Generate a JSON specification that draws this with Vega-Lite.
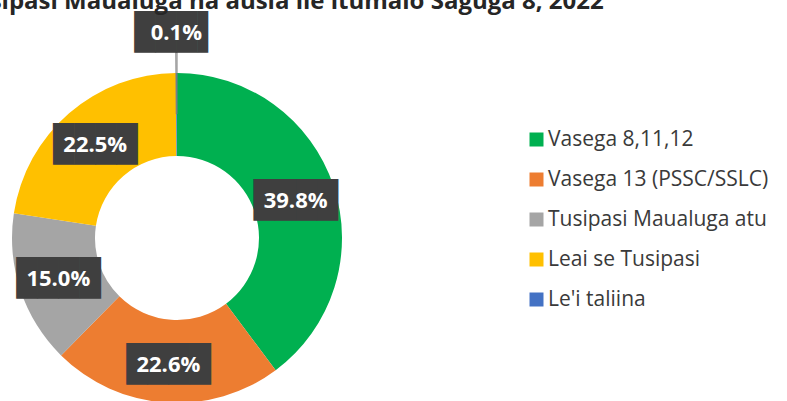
{
  "$schema": "https://vega.github.io/schema/vega-lite/v6.json",
  "autosize": {"type": "none"},
  "width": 354,
  "height": 330,
  "padding": {"left": 0, "top": 73, "right": 433, "bottom": 0},
  "background": "#ffffff",
  "title": {
    "text": "Tusipasi Maualuga na ausia ile itumalo Saguga 8, 2022",
    "anchor": "start",
    "frame": "group",
    "font": "Open Sans",
    "fontSize": 24,
    "fontWeight": "bold",
    "color": "#262626",
    "dx": -40,
    "dy": 21,
    "offset": 4,
    "baseline": "alphabetic"
  },
  "config": {"view": {"stroke": null}},
  "data": {
    "values": [
      {"cat": "Vasega 8,11,12", "pct": 39.8, "ord": 1, "lbl": "39.8%"},
      {"cat": "Vasega 13 (PSSC/SSLC)", "pct": 22.6, "ord": 2, "lbl": "22.6%"},
      {"cat": "Tusipasi Maualuga atu", "pct": 15.0, "ord": 3, "lbl": "15.0%"},
      {"cat": "Leai se Tusipasi", "pct": 22.5, "ord": 4, "lbl": "22.5%"},
      {"cat": "Le'i taliina", "pct": 0.1, "ord": 5, "lbl": "0.1%"}
    ]
  },
  "encoding": {
    "theta": {"field": "pct", "type": "quantitative", "stack": true},
    "order": {"field": "ord", "type": "quantitative"}
  },
  "layer": [
    {
      "mark": {"type": "arc", "innerRadius": 82, "outerRadius": 165},
      "encoding": {
        "color": {
          "field": "cat",
          "type": "nominal",
          "sort": {"field": "ord"},
          "scale": {
            "domain": ["Vasega 8,11,12", "Vasega 13 (PSSC/SSLC)", "Tusipasi Maualuga atu", "Leai se Tusipasi", "Le'i taliina"],
            "range": ["#00B050", "#ED7D31", "#A5A5A5", "#FFC000", "#4472C4"]
          },
          "legend": {
            "title": null,
            "orient": "none",
            "legendX": 526,
            "legendY": 56,
            "labelFont": "Open Sans",
            "labelFontSize": 21,
            "labelColor": "#3a3a3a",
            "symbolType": "square",
            "symbolSize": 196,
            "symbolStrokeWidth": 0,
            "rowPadding": 18,
            "labelOffset": 1,
            "padding": 0,
            "labelLimit": 300
          }
        }
      }
    },
    {
      "mark": {"type": "arc", "innerRadius": 124, "outerRadius": 186, "fillOpacity": 0, "stroke": "#7f7f7f", "strokeWidth": 1},
      "encoding": {
        "detail": {"field": "cat", "type": "nominal"},
        "strokeOpacity": {"condition": {"test": "datum.pct < 1", "value": 1}, "value": 0}
      }
    },
    {
      "mark": {"type": "text", "radius": 125, "font": "DejaVu Sans Mono", "fontSize": 35, "color": "#3f3f3f", "baseline": "middle", "align": "center", "dy": 2},
      "encoding": {
        "detail": {"field": "cat", "type": "nominal"},
        "text": {"condition": {"test": "datum.pct < 1", "value": ""}, "value": "████"}
      }
    },
    {
      "mark": {"type": "text", "radius": 125, "font": "Open Sans", "fontSize": 22, "fontWeight": "bold", "color": "#ffffff", "baseline": "middle", "align": "center", "dy": 2},
      "encoding": {
        "detail": {"field": "cat", "type": "nominal"},
        "text": {"condition": {"test": "datum.pct < 1", "value": ""}, "field": "lbl", "type": "nominal"}
      }
    },
    {
      "mark": {"type": "text", "radius": 205, "font": "DejaVu Sans Mono", "fontSize": 35, "color": "#3f3f3f", "baseline": "middle", "align": "center"},
      "encoding": {
        "detail": {"field": "cat", "type": "nominal"},
        "text": {"condition": {"test": "datum.pct < 1", "value": "███▌"}, "value": ""}
      }
    },
    {
      "mark": {"type": "text", "radius": 205, "font": "Open Sans", "fontSize": 22, "fontWeight": "bold", "color": "#ffffff", "baseline": "middle", "align": "center"},
      "encoding": {
        "detail": {"field": "cat", "type": "nominal"},
        "text": {"condition": {"test": "datum.pct < 1", "field": "lbl", "type": "nominal"}, "value": ""}
      }
    }
  ]
}
